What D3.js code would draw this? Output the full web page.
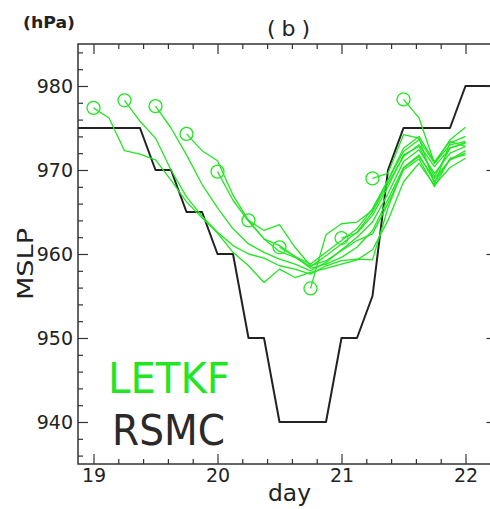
<!DOCTYPE html>
<html>
<head>
<meta charset="utf-8">
<script src="https://cdn.jsdelivr.net/npm/d3@7"></script>
<style>
  html, body { margin: 0; padding: 0; background: #fff; }
  svg { display: block; }
  text { font-family: "DejaVu Sans", "Liberation Sans", sans-serif; }
</style>
</head>
<body>
<svg id="chart" width="490" height="509"></svg>
<script>
// ---- data ----
const days = [18.875, 19.0, 19.125, 19.25, 19.375, 19.5, 19.625, 19.75, 19.875, 20.0,
              20.125, 20.25, 20.375, 20.5, 20.625, 20.75, 20.875, 21.0, 21.125, 21.25,
              21.375, 21.5, 21.625, 21.75, 21.875, 22.0, 22.125, 22.25];

const rsmc = [975, 975, 975, 975, 975, 970, 970, 965, 965, 960,
              960, 950, 950, 940, 940, 940, 940, 950, 950, 955,
              970, 975, 975, 975, 975, 980, 980, 980];

// LETKF forecasts: index of initial time in `days`, then MSLP values
const fcStartIdx = [1, 3, 5, 7, 9, 11, 13, 15, 17, 19, 21];
const fc19_00 = [977.4, 976.2, 972.3, 971.9, 971.2, 968.8, 966.2, 964.3, 962.5, 960.2, 958.6, 956.6, 958.2, 957.2, 957.8, 958.3, 958.8, 959.3, 960.5, 964, 968.6, 970.8, 968.2, 970.3, 971.4];
const fc19_25 = [978.3, 975.8, 973.8, 970, 966.8, 964.5, 962.6, 961, 960, 959.5, 958.6, 958.2, 957.6, 958.6, 959.2, 959.4, 959.3, 965.5, 970.2, 971.6, 969, 971.2, 972];
const fc19_50 = [977.6, 975, 971.8, 968.3, 965.5, 963, 961.2, 960.2, 959.4, 958.8, 958, 959, 960.5, 962, 963.8, 967.2, 971, 972.4, 969.6, 972, 972.8];
const fc19_75 = [974.3, 972.3, 971.1, 967, 964, 961.8, 960.3, 959.6, 958.5, 959.8, 961.2, 962.6, 965, 968.4, 971.6, 973, 970.4, 972.6, 973.2];
const fc20_00 = [969.8, 966.4, 963.9, 961.8, 961, 959.7, 958.8, 960.2, 961.6, 963, 965.4, 968.8, 972.2, 973.6, 970.8, 973, 973.4];
const fc20_25 = [964, 962.8, 963.5, 960.8, 958.6, 959.2, 960.4, 961.6, 962.4, 966, 970, 971.3, 968, 971.4, 971.8];
const fc20_50 = [960.8, 959.7, 958.3, 958.8, 959.6, 960.8, 962.8, 966.5, 970.3, 971.8, 968.6, 971.2, 972.3];
const fc20_75 = [955.9, 962.3, 963.6, 963.8, 965.2, 968.8, 972.6, 974, 971, 973.4, 972.8];
const fc21_00 = [961.9, 962.5, 964.6, 968, 971.8, 972.8, 969.2, 972.6, 973.3];
const fc21_25 = [969, 969.6, 974.2, 973.8, 968.3, 973.2, 974];
const fc21_50 = [978.4, 976.2, 970.8, 973.6, 975.1];
const forecasts = [fc19_00, fc19_25, fc19_50, fc19_75, fc20_00, fc20_25, fc20_50, fc20_75, fc21_00, fc21_25, fc21_50];

const xMajor = [19, 20, 21, 22];
const xMinor = [19.2, 19.4, 19.6, 19.8, 20.2, 20.4, 20.6, 20.8, 21.2, 21.4, 21.6, 21.8];
const yMajor = [940, 950, 960, 970, 980];
const yMinor = [936, 938, 942, 944, 946, 948, 952, 954, 956, 958, 962, 964, 966, 968, 972, 974, 976, 978, 982, 984];

// ---- layout ----
const svg = d3.select("#chart");
const L = 78, T = 44, R = 496.5, B = 464;
const x = d3.scaleLinear().domain([18.875, 22.25]).range([L, R]);
const y = d3.scaleLinear().domain([935, 985]).range([B, T]);

const green = "#22e622";
const dark = "#222";

svg.append("clipPath").attr("id", "clip")
  .append("rect").attr("x", L).attr("y", T).attr("width", R - L).attr("height", B - T);
const plot = svg.append("g").attr("clip-path", "url(#clip)");

// RSMC
const line = d3.line().x(d => x(d[0])).y(d => y(d[1]));
plot.append("path")
  .datum(days.map((d, i) => [d, rsmc[i]]))
  .attr("d", line)
  .attr("fill", "none")
  .attr("stroke", dark)
  .attr("stroke-width", 2)
  .attr("stroke-linejoin", "round");

// LETKF forecasts
forecasts.forEach((vals, k) => {
  const s = fcStartIdx[k];
  const pts = vals.map((v, i) => [days[s + i], v]);
  plot.append("path")
    .datum(pts)
    .attr("d", line)
    .attr("fill", "none")
    .attr("stroke", green)
    .attr("stroke-width", 1.3)
    .attr("stroke-linejoin", "round");
  plot.append("circle")
    .attr("cx", x(pts[0][0]))
    .attr("cy", y(pts[0][1]))
    .attr("r", 6.5)
    .attr("fill", "none")
    .attr("stroke", green)
    .attr("stroke-width", 1.3);
});

// ---- axes ----
function styleAxis(g) {
  g.select(".domain").remove();
  g.selectAll(".tick line").attr("stroke", "#333").attr("stroke-width", 1.2);
}
svg.append("g").attr("transform", `translate(0,${B})`)
  .call(d3.axisBottom(x).tickValues(xMajor).tickSize(-10).tickPadding(5).tickFormat(d3.format("d")))
  .call(styleAxis)
  .call(g => g.selectAll("text").attr("font-size", 19).attr("fill", "#222"));
svg.append("g").attr("transform", `translate(0,${B})`)
  .call(d3.axisBottom(x).tickValues(xMinor).tickSize(-5).tickFormat(""))
  .call(styleAxis);
svg.append("g").attr("transform", `translate(0,${T})`)
  .call(d3.axisTop(x).tickValues(xMajor).tickSize(-10).tickFormat(""))
  .call(styleAxis);
svg.append("g").attr("transform", `translate(0,${T})`)
  .call(d3.axisTop(x).tickValues(xMinor).tickSize(-5).tickFormat(""))
  .call(styleAxis);
svg.append("g").attr("transform", `translate(${L},0)`)
  .call(d3.axisLeft(y).tickValues(yMajor).tickSize(-10).tickPadding(5).tickFormat(d3.format("d")))
  .call(styleAxis)
  .call(g => g.selectAll("text").attr("font-size", 19).attr("fill", "#222"));
svg.append("g").attr("transform", `translate(${L},0)`)
  .call(d3.axisLeft(y).tickValues(yMinor).tickSize(-5).tickFormat(""))
  .call(styleAxis);
svg.append("g").attr("transform", `translate(${R},0)`)
  .call(d3.axisRight(y).tickValues(yMajor).tickSize(-10).tickFormat(""))
  .call(styleAxis);

svg.append("rect")
  .attr("x", L).attr("y", T).attr("width", R - L).attr("height", B - T)
  .attr("fill", "none").attr("stroke", "#333").attr("stroke-width", 1.5);

// ---- texts ----
svg.append("text").attr("x", 23).attr("y", 28)
  .attr("font-size", 15).attr("font-weight", "bold").attr("fill", "#222")
  .attr("textLength", 52).attr("lengthAdjust", "spacingAndGlyphs")
  .text("(hPa)");
svg.append("text").attr("x", 267).attr("y", 36)
  .attr("font-size", 22).attr("fill", "#222")
  .attr("font-family", "DejaVu Sans Mono")
  .attr("textLength", 43).attr("lengthAdjust", "spacing")
  .text("(b)");
svg.append("text")
  .attr("transform", "translate(33,300) rotate(-90)")
  .attr("font-size", 22).attr("fill", "#222")
  .attr("textLength", 72).attr("lengthAdjust", "spacingAndGlyphs")
  .text("MSLP");
svg.append("text").attr("x", 268).attr("y", 501)
  .attr("font-size", 23).attr("fill", "#222")
  .attr("textLength", 43).attr("lengthAdjust", "spacingAndGlyphs")
  .text("day");

svg.append("text").attr("x", 108).attr("y", 393)
  .attr("font-family", "Liberation Sans")
  .attr("font-size", 42).attr("fill", green)
  .attr("textLength", 122).attr("lengthAdjust", "spacingAndGlyphs")
  .text("LETKF");
svg.append("text").attr("x", 112).attr("y", 445)
  .attr("font-family", "Liberation Sans")
  .attr("font-size", 42).attr("fill", "#2a2a2a")
  .attr("textLength", 113).attr("lengthAdjust", "spacingAndGlyphs")
  .text("RSMC");
</script>
</body>
</html>
